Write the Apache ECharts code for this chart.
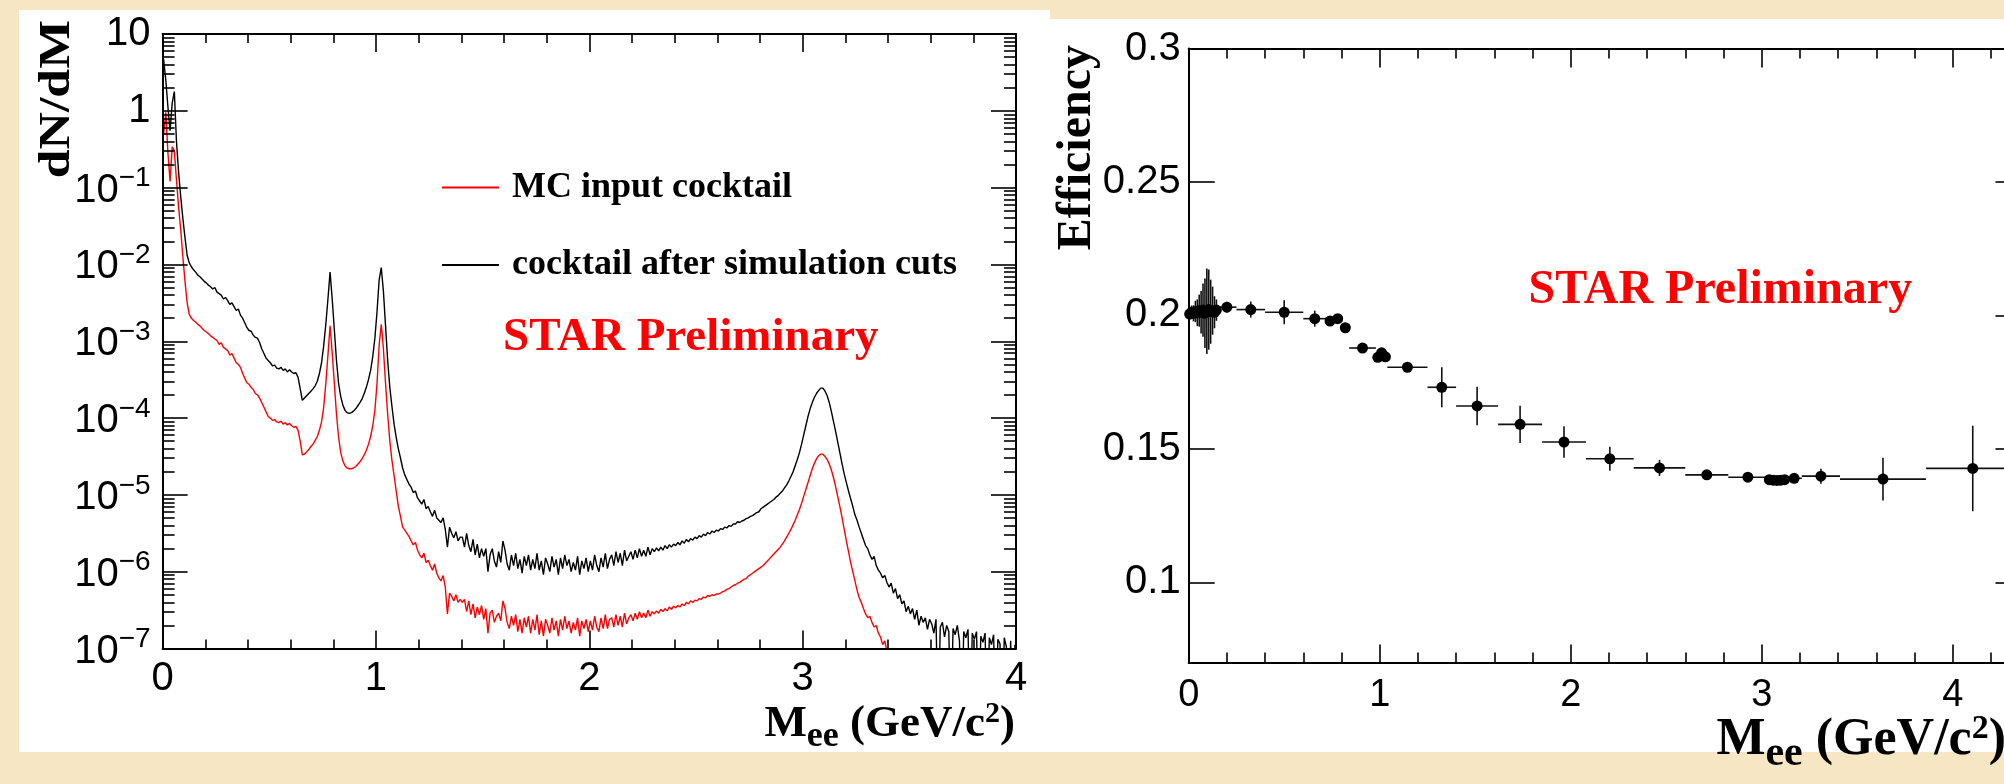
<!DOCTYPE html>
<html>
<head>
<meta charset="utf-8">
<script src="https://cdn.jsdelivr.net/npm/echarts@6/dist/echarts.min.js"></script>
<style>
  html, body { margin: 0; padding: 0; background: #f6e6c3; }
  #chart { width: 2004px; height: 784px; }
</style>
</head>
<body>
<div id="chart"></div>
<script>
// ---- Left panel: di-electron cocktail, log10(dN/dM) per 10 MeV/c^2 bin ----
const massBinWidth = 0.01;
const massFirstBin = 0.005;

// cocktail after simulation cuts (black)
const cocktailAfterCuts = [
  0.67, 0.40, 0.05, -0.26, 0.10, 0.25, -0.40, -0.80, -1.12, -1.40,
  -1.65, -1.88, -1.98, -2.03, -2.07, -2.10, -2.14, -2.16, -2.19, -2.22,
  -2.24, -2.27, -2.29, -2.32, -2.30, -2.36, -2.38, -2.40, -2.45, -2.43,
  -2.47, -2.52, -2.50, -2.55, -2.60, -2.58, -2.66, -2.70, -2.76, -2.82,
  -2.86, -2.87, -2.92, -2.95, -2.96, -3.02, -3.10, -3.16, -3.22, -3.25,
  -3.28, -3.32, -3.31, -3.35, -3.36, -3.34, -3.38, -3.36, -3.40, -3.37,
  -3.40, -3.42, -3.41, -3.47, -3.62, -3.77, -3.74, -3.71, -3.68, -3.65,
  -3.62, -3.58, -3.52, -3.42, -3.28, -3.06, -2.78, -2.45, -2.10, -2.45,
  -2.85, -3.25, -3.55, -3.72, -3.83, -3.90, -3.93, -3.94, -3.93, -3.91,
  -3.88, -3.84, -3.80, -3.75, -3.68, -3.60, -3.50, -3.38, -3.20, -2.96,
  -2.62, -2.20, -2.04, -2.35, -2.80, -3.25, -3.60, -3.85, -4.08, -4.25,
  -4.40, -4.52, -4.65, -4.74, -4.80, -4.86, -4.90, -4.97, -4.95, -5.04,
  -5.08, -5.12, -5.06, -5.18, -5.15, -5.22, -5.28, -5.20, -5.30, -5.33,
  -5.36, -5.30, -5.45, -5.68, -5.42, -5.50, -5.56, -5.48, -5.60, -5.55,
  -5.55, -5.68, -5.50, -5.66, -5.74, -5.58, -5.78, -5.64, -5.82, -5.70,
  -5.80, -5.70, -6.00, -5.78, -5.70, -5.86, -5.94, -5.74, -5.88, -5.60,
  -5.72, -5.90, -5.98, -5.78, -5.92, -5.76, -5.96, -5.84, -6.02, -5.80,
  -5.92, -5.78, -5.98, -5.84, -5.96, -5.76, -5.98, -5.86, -6.04, -5.82,
  -5.90, -6.00, -5.80, -5.94, -5.84, -6.04, -5.82, -5.96, -5.78, -5.92,
  -5.84, -6.00, -5.88, -5.98, -5.80, -6.04, -5.86, -5.96, -5.82, -6.00,
  -5.86, -5.98, -5.78, -5.92, -6.00, -5.82, -5.94, -5.76, -5.96, -5.84,
  -5.78, -5.92, -5.74, -5.88, -5.76, -5.92, -5.72, -5.86, -5.80, -5.74,
  -5.84, -5.72, -5.82, -5.70, -5.80, -5.72, -5.80, -5.68, -5.78, -5.70,
  -5.74, -5.69, -5.73, -5.68, -5.72, -5.66, -5.70, -5.65, -5.68, -5.64,
  -5.66, -5.62, -5.65, -5.60, -5.63, -5.58, -5.61, -5.57, -5.59, -5.55,
  -5.57, -5.53, -5.55, -5.51, -5.53, -5.49, -5.51, -5.47, -5.49, -5.46,
  -5.47, -5.44, -5.45, -5.42, -5.43, -5.40, -5.41, -5.38, -5.38, -5.35,
  -5.36, -5.34, -5.33, -5.31, -5.30, -5.28, -5.27, -5.25, -5.23, -5.22,
  -5.18, -5.16, -5.14, -5.12, -5.10, -5.08, -5.06, -5.03, -5.01, -4.98,
  -4.95, -4.91, -4.87, -4.82, -4.76, -4.70, -4.62, -4.54, -4.45, -4.34,
  -4.22, -4.10, -3.98, -3.88, -3.80, -3.73, -3.68, -3.64, -3.61, -3.61,
  -3.65, -3.71, -3.80, -3.92, -4.05, -4.18, -4.32, -4.46, -4.60, -4.73,
  -4.84, -4.95, -5.05, -5.15, -5.26, -5.33, -5.42, -5.50, -5.58, -5.66,
  -5.70, -5.78, -5.84, -5.80, -5.92, -5.98, -6.02, -6.08, -6.05, -6.14,
  -6.20, -6.15, -6.28, -6.22, -6.35, -6.30, -6.42, -6.38, -6.52, -6.45,
  -6.55, -6.48, -6.62, -6.50, -6.70, -6.58, -6.66, -6.60, -6.75, -6.62,
  -6.68, -6.80, -6.62, -8.00, -6.72, -6.66, -6.85, -6.70, -6.78, -8.00,
  -6.74, -6.82, -6.70, -6.90, -8.00, -6.78, -6.86, -6.75, -8.00, -6.80,
  -6.88, -6.78, -8.00, -6.84, -6.92, -6.80, -8.00, -6.86, -6.95, -6.82,
  -8.00, -6.88, -6.94, -8.00, -6.86, -6.98, -8.00, -6.90, -8.00, -6.95
];

// MC input cocktail (red)
const cocktailInput = [
  -0.30, -0.02, -0.55, -0.92, -0.47, -0.52, -0.90, -1.25, -1.55, -1.90,
  -2.22, -2.50, -2.65, -2.70, -2.73, -2.75, -2.78, -2.80, -2.83, -2.86,
  -2.88, -2.90, -2.93, -2.95, -2.97, -2.99, -3.04, -3.02, -3.08, -3.10,
  -3.12, -3.18, -3.16, -3.22, -3.28, -3.30, -3.34, -3.42, -3.48, -3.54,
  -3.56, -3.60, -3.63, -3.68, -3.70, -3.74, -3.80, -3.86, -3.92, -3.98,
  -4.00, -4.03, -4.02, -4.05, -4.06, -4.04, -4.08, -4.06, -4.09, -4.07,
  -4.10, -4.12, -4.11, -4.16, -4.30, -4.48, -4.47, -4.44, -4.41, -4.37,
  -4.34, -4.29, -4.24, -4.16, -4.05, -3.86, -3.55, -3.18, -2.80, -3.15,
  -3.55, -3.95, -4.25, -4.45, -4.56, -4.62, -4.65, -4.66, -4.66, -4.65,
  -4.63, -4.60, -4.57, -4.53, -4.48, -4.42, -4.34, -4.24, -4.10, -3.90,
  -3.55, -3.05, -2.78, -3.10, -3.55, -3.95, -4.30, -4.55, -4.75, -4.95,
  -5.15, -5.28, -5.42, -5.46, -5.50, -5.54, -5.60, -5.65, -5.62, -5.72,
  -5.78, -5.82, -5.76, -5.88, -5.85, -5.92, -5.98, -5.90, -6.02, -6.08,
  -6.12, -6.05, -6.20, -6.55, -6.28, -6.32, -6.38, -6.30, -6.40, -6.36,
  -6.40, -6.36, -6.52, -6.38, -6.56, -6.42, -6.60, -6.46, -6.56, -6.44,
  -6.62, -6.48, -6.80, -6.54, -6.50, -6.66, -6.58, -6.54, -6.64, -6.38,
  -6.48, -6.66, -6.74, -6.58, -6.70, -6.56, -6.78, -6.62, -6.80, -6.60,
  -6.72, -6.58, -6.80, -6.62, -6.76, -6.56, -6.82, -6.64, -6.84, -6.62,
  -6.70, -6.80, -6.60, -6.76, -6.64, -6.84, -6.62, -6.76, -6.58, -6.74,
  -6.64, -6.80, -6.66, -6.76, -6.60, -6.84, -6.64, -6.74, -6.62, -6.78,
  -6.64, -6.76, -6.58, -6.72, -6.78, -6.60, -6.74, -6.56, -6.74, -6.62,
  -6.60, -6.72, -6.56, -6.70, -6.58, -6.72, -6.54, -6.68, -6.60, -6.56,
  -6.64, -6.54, -6.62, -6.52, -6.60, -6.54, -6.60, -6.50, -6.58, -6.52,
  -6.55, -6.51, -6.54, -6.49, -6.52, -6.48, -6.51, -6.46, -6.49, -6.45,
  -6.47, -6.44, -6.46, -6.42, -6.44, -6.40, -6.42, -6.38, -6.40, -6.37,
  -6.38, -6.35, -6.36, -6.33, -6.34, -6.31, -6.32, -6.30, -6.31, -6.29,
  -6.29, -6.28, -6.26, -6.25, -6.23, -6.22, -6.20, -6.18, -6.17, -6.15,
  -6.14, -6.12, -6.10, -6.09, -6.06, -6.04, -6.02, -6.00, -5.98, -5.96,
  -5.94, -5.92, -5.89, -5.86, -5.83, -5.80, -5.77, -5.74, -5.71, -5.68,
  -5.64, -5.60, -5.55, -5.50, -5.45, -5.39, -5.33, -5.26, -5.19, -5.11,
  -5.02, -4.93, -4.84, -4.75, -4.66, -4.59, -4.53, -4.49, -4.47, -4.47,
  -4.50, -4.54, -4.60, -4.68, -4.78, -4.90, -5.03, -5.16, -5.30, -5.45,
  -5.60, -5.74, -5.88, -6.00, -6.12, -6.24, -6.34, -6.40, -6.48, -6.55,
  -6.60, -6.58, -6.66, -6.72, -6.70, -6.80, -6.85, -6.95, -6.90, -7.05,
  -7.20, -7.10, -7.40, -7.30, -7.50, -7.20, -7.60, -7.50, -7.60, -7.80
];

const massTicks = [0, 1, 2, 3, 4];
const massMinorTicks = [0.2, 0.4, 0.6, 0.8, 1.2, 1.4, 1.6, 1.8, 2.2, 2.4, 2.6, 2.8, 3.2, 3.4, 3.6, 3.8, 4.2];
const decadeTicks = [-7, -6, -5, -4, -3, -2, -1, 0, 1];

// ---- Right panel: pair efficiency in variable mass bins ----
const effBinEdges = [
  0.00, 0.01, 0.02, 0.03, 0.04, 0.05, 0.06, 0.07, 0.08, 0.09,
  0.10, 0.11, 0.12, 0.13, 0.14, 0.15, 0.25, 0.40, 0.60, 0.72,
  0.76, 0.80, 0.84, 0.98, 1.00, 1.02, 1.04, 1.25, 1.40, 1.62,
  1.85, 2.08, 2.33, 2.60, 2.825, 3.03, 3.05, 3.07, 3.09, 3.11,
  3.13, 3.21, 3.41, 3.86, 4.35
];
const efficiency = [
  0.2005, 0.2012, 0.2008, 0.2015, 0.2010, 0.2018, 0.2012, 0.2020, 0.2008, 0.2016,
  0.2022, 0.2014, 0.2018, 0.2012, 0.2020, 0.2031, 0.2022, 0.2012, 0.1988, 0.1979,
  0.1988, 0.1954, 0.1878, 0.1843, 0.1860, 0.1845, 0.1806, 0.1731, 0.1661, 0.1592,
  0.1526, 0.1463, 0.1429, 0.1403, 0.1394, 0.1385, 0.1383, 0.1382, 0.1383, 0.1385,
  0.1390, 0.1398, 0.1387, 0.1427
];
const efficiencyError = [
  0.0020, 0.0025, 0.0030, 0.0040, 0.0050, 0.0060, 0.0080, 0.0100, 0.0130, 0.0160,
  0.0150, 0.0120, 0.0090, 0.0060, 0.0040, 0.0020, 0.0030, 0.0045, 0.0030, 0.0015,
  0.0015, 0.0015, 0.0015, 0.0015, 0.0015, 0.0015, 0.0015, 0.0075, 0.0072, 0.0070,
  0.0059, 0.0045, 0.0030, 0.0015, 0.0015, 0.0010, 0.0010, 0.0010, 0.0010, 0.0010,
  0.0015, 0.0028, 0.0080, 0.0160
];
const effTicks = [0.1, 0.15, 0.2, 0.25, 0.3];

// ---- styling ----
const SANS = '"Liberation Sans", Arial, Helvetica, sans-serif';
const SERIF = '"Liberation Serif", "Times New Roman", Times, serif';

const decadeMinorTicks = [];
decadeTicks.slice(0, -1).forEach(function (n) {
  for (let k = 2; k <= 9; k++) decadeMinorTicks.push(n + Math.log10(k));
});

function frameAxis(gridIndex, position, min, max, ticks, tickLen, showLine, label) {
  return {
    type: 'value', gridIndex: gridIndex, position: position, min: min, max: max,
    axisLine: { show: showLine, onZero: false, lineStyle: { color: '#000', width: 2 } },
    axisTick: { show: true, inside: true, length: tickLen, customValues: ticks,
                lineStyle: { color: '#000', width: 1.6 } },
    axisLabel: label ? Object.assign({ show: true, customValues: ticks, color: '#000' }, label) : { show: false },
    splitLine: { show: false },
    axisPointer: { show: false },
    z: 5
  };
}

const massLabel = { fontFamily: SANS, fontSize: 40, margin: 10 };
// powers of ten: base "10" sits a little low, exponent raised
const decadeLabel = {
  margin: 12,
  formatter: function (v) {
    if (v === 1) return '{p|10}';
    if (v === 0) return '{p|1}';
    return '{z| }{b|10}{s|' + String(v).replace('-', '\u2212') + '}';
  },
  rich: {
    p: { fontFamily: SANS, fontSize: 40, lineHeight: 42, color: '#000' },
    z: { fontFamily: SANS, fontSize: 1, lineHeight: 46, color: '#000' },
    b: { fontFamily: SANS, fontSize: 40, lineHeight: 36, verticalAlign: 'bottom', color: '#000' },
    s: { fontFamily: SANS, fontSize: 28, lineHeight: 30, verticalAlign: 'top', color: '#000' }
  }
};
const effMassLabel = { fontFamily: SANS, fontSize: 38, margin: 14 };
const effLabel = { fontFamily: SANS, fontSize: 40, margin: 8 };

const xMax2 = 4.36;

const xAxes = [
  frameAxis(0, 'bottom', 0, 4, massTicks, 18, true, massLabel),
  frameAxis(0, 'bottom', 0, 4, massMinorTicks.filter(v => v < 4), 9, false, null),
  frameAxis(0, 'top', 0, 4, massTicks, 18, true, null),
  frameAxis(0, 'top', 0, 4, massMinorTicks.filter(v => v < 4), 9, false, null),
  frameAxis(1, 'bottom', 0, xMax2, massTicks, 18, true, effMassLabel),
  frameAxis(1, 'bottom', 0, xMax2, massMinorTicks, 10, false, null),
  frameAxis(1, 'top', 0, xMax2, massTicks, 19, true, null),
  frameAxis(1, 'top', 0, xMax2, massMinorTicks, 10, false, null)
];
const yAxes = [
  frameAxis(0, 'left', -7, 1, decadeTicks, 25, true, decadeLabel),
  frameAxis(0, 'left', -7, 1, decadeMinorTicks, 12, false, null),
  frameAxis(0, 'right', -7, 1, decadeTicks, 25, true, null),
  frameAxis(0, 'right', -7, 1, decadeMinorTicks, 12, false, null),
  frameAxis(1, 'left', 0.07, 0.3, effTicks, 26, true, effLabel),
  frameAxis(1, 'right', 0.07, 0.3, effTicks, 26, true, null)
];

function massSeries(values) {
  return values.map(function (v, i) { return [massFirstBin + massBinWidth * i, v]; });
}

const effRows = efficiency.map(function (e, i) {
  return [effBinEdges[i], effBinEdges[i + 1], e, efficiencyError[i]];
});

// axis title "M_ee (GeV/c^2)" with subscript and superscript fragments
function massTitle(size, subSize, subBox, supSize) {
  return {
    text: '{m|M}{s|ee}{m| (GeV/c}{p|2}{m|)}',
    align: 'right', verticalAlign: 'top', textAlign: 'right', textVerticalAlign: 'top',
    rich: {
      m: { font: 'bold ' + size + 'px ' + SERIF, fill: '#000', lineHeight: Math.round(size * 1.1), verticalAlign: 'middle' },
      s: { font: 'bold ' + subSize + 'px ' + SERIF, fill: '#000', height: subBox, lineHeight: subBox, verticalAlign: 'bottom' },
      p: { font: 'bold ' + supSize + 'px ' + SERIF, fill: '#000', verticalAlign: 'top' }
    }
  };
}

const chart = echarts.init(document.getElementById('chart'), null, { renderer: 'canvas' });

chart.setOption({
  animation: false,
  backgroundColor: '#f6e6c3',
  grid: [
    { left: 162.6, top: 34, width: 853.4, height: 614.5, outerBoundsMode: 'none', containLabel: false },
    { left: 1188.7, top: 48.5, width: 191 * xMax2, height: 614, outerBoundsMode: 'none', containLabel: false }
  ],
  xAxis: xAxes,
  yAxis: yAxes,
  legend: {
    show: true, orient: 'vertical', left: 442, top: 167.5, padding: 0,
    itemWidth: 57, itemHeight: 2, itemGap: 37.5, icon: 'rect', selectedMode: false,
    textStyle: { fontFamily: SERIF, fontWeight: 'bold', fontSize: 36, color: '#000', lineHeight: 40, padding: [0, 0, 0, 8] },
    data: ['MC input cocktail', 'cocktail after simulation cuts']
  },
  series: [
    {
      name: 'MC input cocktail', type: 'line', xAxisIndex: 0, yAxisIndex: 0,
      data: massSeries(cocktailInput), showSymbol: false, symbol: 'none', clip: true,
      color: '#ff0000', lineStyle: { color: '#ff0000', width: 1.4 }, z: 3
    },
    {
      name: 'cocktail after simulation cuts', type: 'line', xAxisIndex: 0, yAxisIndex: 0,
      data: massSeries(cocktailAfterCuts), showSymbol: false, symbol: 'none', clip: true,
      color: '#000000', lineStyle: { color: '#000000', width: 1.4 }, z: 3
    },
    {
      name: 'efficiency', type: 'custom', xAxisIndex: 4, yAxisIndex: 4,
      data: effRows, encode: { x: [0, 1], y: 2 },
      renderItem: function (params, api) {
        const lo = api.value(0), hi = api.value(1), eff = api.value(2), err = api.value(3);
        const mid = (lo + hi) / 2;
        const a = api.coord([lo, eff]), b = api.coord([hi, eff]);
        const c = api.coord([mid, eff]);
        const t = api.coord([mid, eff + err]), d = api.coord([mid, eff - err]);
        const st = { stroke: '#111', lineWidth: 1.6 };
        return {
          type: 'group',
          children: [
            { type: 'line', shape: { x1: a[0], y1: a[1], x2: b[0], y2: b[1] }, style: st },
            { type: 'line', shape: { x1: t[0], y1: t[1], x2: d[0], y2: d[1] }, style: st },
            { type: 'circle', shape: { cx: c[0], cy: c[1], r: 5.5 }, style: { fill: '#000' } }
          ]
        };
      },
      z: 4
    }
  ],
  graphic: [
    { type: 'rect', z: -1, silent: true, shape: { x: 19, y: 10, width: 1031, height: 742 }, style: { fill: '#ffffff' } },
    { type: 'rect', z: -1, silent: true, shape: { x: 1045, y: 19, width: 962, height: 733 }, style: { fill: '#ffffff' } },
    {
      type: 'text', x: 57, y: 20, rotation: Math.PI / 2, scaleX: 1.15, z: 10,
      style: { text: 'dN/dM', font: 'bold 45px ' + SERIF, fill: '#000',
               align: 'right', verticalAlign: 'middle', textAlign: 'right', textVerticalAlign: 'middle' }
    },
    {
      type: 'text', x: 1078, y: 45, rotation: Math.PI / 2, z: 10,
      style: { text: 'Efficiency', font: 'bold 48px ' + SERIF, fill: '#000',
               align: 'right', verticalAlign: 'middle', textAlign: 'right', textVerticalAlign: 'middle' }
    },
    { type: 'text', x: 1015, y: 699, z: 10, style: massTitle(45, 36, 24, 30) },
    { type: 'text', x: 2006, y: 712, z: 10, style: massTitle(52, 42, 30, 34) },
    {
      type: 'text', x: 503, y: 338, z: 10,
      style: { text: 'STAR Preliminary', font: 'bold 47px ' + SERIF, fill: '#ff0000',
               align: 'left', verticalAlign: 'middle', textAlign: 'left', textVerticalAlign: 'middle' }
    },
    {
      type: 'text', x: 1528.6, y: 291, z: 10,
      style: { text: 'STAR Preliminary', font: 'bold 48px ' + SERIF, fill: '#ff0000',
               align: 'left', verticalAlign: 'middle', textAlign: 'left', textVerticalAlign: 'middle' }
    }
  ]
});
</script>
</body>
</html>
